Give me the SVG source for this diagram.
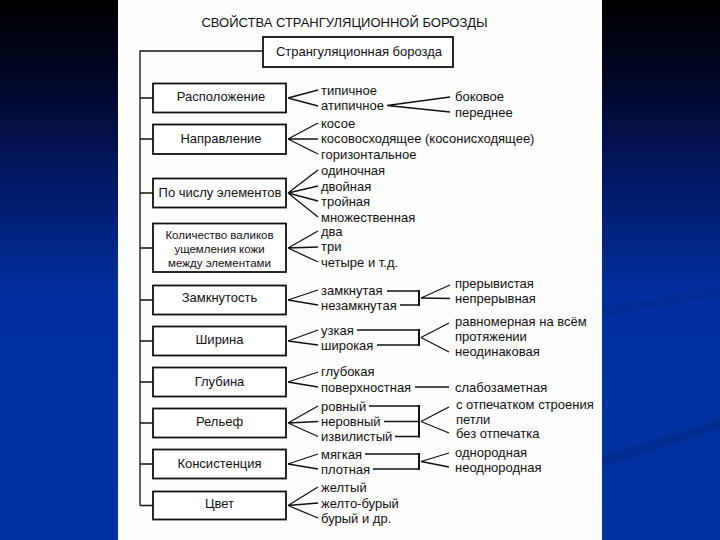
<svg xmlns="http://www.w3.org/2000/svg" width="720" height="540" viewBox="0 0 720 540">
<defs>
<linearGradient id="bg" x1="0" y1="0" x2="0" y2="1">
<stop offset="0" stop-color="#000000"/>
<stop offset="0.12" stop-color="#01061f"/>
<stop offset="0.35" stop-color="#031a6a"/>
<stop offset="0.55" stop-color="#0030a0"/>
<stop offset="1" stop-color="#0033a2"/>
</linearGradient>
<style>
.t{font-family:"Liberation Sans",Arial,sans-serif;font-size:13px;fill:#111}
.m{text-anchor:middle}
.s{font-size:11.5px}
.box{fill:#fff;stroke:#111;stroke-width:1.8}
.ln{fill:none;stroke:#111;stroke-width:1.3}
.br{fill:none;stroke:#111;stroke-width:2}
</style>
</defs>
<rect x="0" y="0" width="720" height="540" fill="url(#bg)"/>
<path d="M602 462 L720 424" stroke="#00257e" stroke-width="9" opacity="0.5" fill="none"/>
<path d="M602 312 L720 292" stroke="#00287f" stroke-width="8" opacity="0.35" fill="none"/>
<rect x="118" y="0" width="484" height="540" fill="#fdfdfc"/>

<text class="t m" x="344.5" y="27">СВОЙСТВА СТРАНГУЛЯЦИОННОЙ БОРОЗДЫ</text>

<g id="connectors">
<path class="ln" d="M263 51 H140 V505.5"/>
<path class="ln" d="M140 98 H153 M140 139 H153 M140 193 H153 M140 248 H153 M140 300 H153 M140 341 H153 M140 382 H153 M140 423 H153 M140 464 H153 M140 505.5 H153"/>
<path class="ln" d="M288 98 L318 90 M288 98 L318 106"/>
<path class="ln" d="M288 139 L318 123 M288 139 L318 139 M288 139 L318 154"/>
<path class="ln" d="M288 193 L318 170 M288 193 L318 186 M288 193 L318 201 M288 193 L318 217"/>
<path class="ln" d="M288 248 L318 231 M288 248 L318 247 M288 248 L318 262"/>
<path class="ln" d="M288 300 L318 290 M288 300 L318 305"/>
<path class="ln" d="M288 341 L318 330 M288 341 L318 345"/>
<path class="ln" d="M288 382 L318 372 M288 382 L318 387"/>
<path class="ln" d="M288 423 L318 406 M288 423 L318 421.5 M288 423 L318 436.5"/>
<path class="ln" d="M288 464 L318 454 M288 464 L318 469"/>
<path class="ln" d="M288 505.5 L318 487 M288 505.5 L318 503 M288 505.5 L318 518"/>
<path class="ln" d="M387 105.5 L450 97 M387 105.5 L450 112"/>
<path class="ln" d="M387 291 H419 M400 305 H419"/>
<path class="br" d="M419 290 V306"/>
<path class="ln" d="M421 298 L450 285 M421 298 L450 298.5"/>
<path class="ln" d="M357 330 H419 M377 345 H419"/>
<path class="br" d="M419 329 V346"/>
<path class="ln" d="M421 337.5 L449 323 M421 337.5 L449 352"/>
<path class="ln" d="M415 387 H449"/>
<path class="ln" d="M369 406 H419 M384 421.5 H419 M395 436.5 H419"/>
<path class="br" d="M419 405 V437.5"/>
<path class="ln" d="M421 421.5 L449 407 M421 421.5 L449 433"/>
<path class="ln" d="M365 454 H419 M373 469 H419"/>
<path class="br" d="M419 453 V470"/>
<path class="ln" d="M421 461.5 L449 453 M421 461.5 L449 467"/>
</g>

<g id="root"><rect class="box" x="263" y="37" width="190" height="30"/><text class="t m" x="359" y="56">Странгуляционная борозда</text></g>
<g id="n1"><rect class="box" x="153" y="83.5" width="133" height="29"/><text class="t m" x="221" y="101">Расположение</text></g>
<g id="n2"><rect class="box" x="153" y="124.5" width="133" height="29.5"/><text class="t m" x="221" y="143">Направление</text></g>
<g id="n3"><rect class="box" x="153" y="178.5" width="133" height="29"/><text class="t m" x="220" y="196.5">По числу элементов</text></g>
<g id="n4"><rect class="box" x="153" y="223.5" width="133" height="48.5"/><text class="t s m" x="219.5" y="238.5">Количество валиков</text><text class="t s m" x="219.5" y="252.5">ущемления кожи</text><text class="t s m" x="219.5" y="266.5">между элементами</text></g>
<g id="n5"><rect class="box" x="153" y="285.5" width="133" height="29"/><text class="t m" x="219.5" y="301.5">Замкнутость</text></g>
<g id="n6"><rect class="box" x="153" y="326.5" width="133" height="29"/><text class="t m" x="219.5" y="343.5">Ширина</text></g>
<g id="n7"><rect class="box" x="153" y="367.5" width="133" height="29"/><text class="t m" x="219.5" y="385.5">Глубина</text></g>
<g id="n8"><rect class="box" x="153" y="408.5" width="133" height="29"/><text class="t m" x="219.5" y="425.5">Рельеф</text></g>
<g id="n9"><rect class="box" x="153" y="449.5" width="133" height="29"/><text class="t m" x="219.5" y="467.5">Консистенция</text></g>
<g id="n10"><rect class="box" x="153" y="491.5" width="133" height="28"/><text class="t m" x="219.5" y="507.5">Цвет</text></g>

<g id="values">
<text class="t" x="321" y="95">типичное</text>
<text class="t" x="321" y="110">атипичное</text>
<text class="t" x="321" y="127.5">косое</text>
<text class="t" x="321" y="143">косовосходящее (косонисходящее)</text>
<text class="t" x="321" y="158.5">горизонтальное</text>
<text class="t" x="321" y="175">одиночная</text>
<text class="t" x="321" y="190.5">двойная</text>
<text class="t" x="321" y="205.5">тройная</text>
<text class="t" x="321" y="221.5">множественная</text>
<text class="t" x="321" y="236">два</text>
<text class="t" x="321" y="251">три</text>
<text class="t" x="321" y="266.5">четыре и т.д.</text>
<text class="t" x="321" y="294.5">замкнутая</text>
<text class="t" x="321" y="309.5">незамкнутая</text>
<text class="t" x="321" y="334.5">узкая</text>
<text class="t" x="321" y="349.5">широкая</text>
<text class="t" x="321" y="376">глубокая</text>
<text class="t" x="321" y="391.5">поверхностная</text>
<text class="t" x="321" y="410.5">ровный</text>
<text class="t" x="321" y="426">неровный</text>
<text class="t" x="321" y="441">извилистый</text>
<text class="t" x="321" y="458.5">мягкая</text>
<text class="t" x="321" y="473.5">плотная</text>
<text class="t" x="321" y="491.5">желтый</text>
<text class="t" x="321" y="507.5">желто-бурый</text>
<text class="t" x="321" y="522.5">бурый и др.</text>
</g>
<g id="subvalues">
<text class="t" x="455" y="101">боковое</text>
<text class="t" x="455" y="116.5">переднее</text>
<text class="t" x="455" y="287.5">прерывистая</text>
<text class="t" x="455" y="302.5">непрерывная</text>
<text class="t" x="455" y="325.5">равномерная на всём</text>
<text class="t" x="455" y="341">протяжении</text>
<text class="t" x="455" y="356">неодинаковая</text>
<text class="t" x="455" y="391.5">слабозаметная</text>
<text class="t" x="456" y="408.5">с отпечатком строения</text>
<text class="t" x="456" y="423.5">петли</text>
<text class="t" x="456" y="437.5">без отпечатка</text>
<text class="t" x="455" y="456.5">однородная</text>
<text class="t" x="455" y="471.5">неоднородная</text>
</g>
</svg>
